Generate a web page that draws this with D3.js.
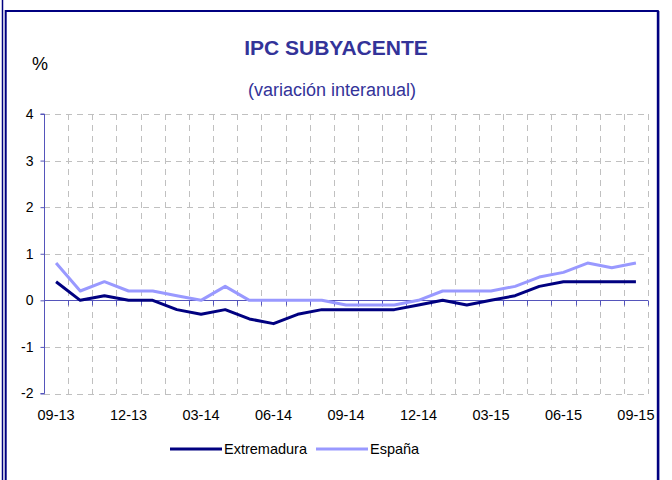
<!DOCTYPE html>
<html>
<head>
<meta charset="utf-8">
<script src="https://cdn.jsdelivr.net/npm/d3@7/dist/d3.min.js"></script>
<style>
  html, body { margin: 0; padding: 0; background: #fff; }
  svg { display: block; font-family: "Liberation Sans", Arial, sans-serif; }
</style>
</head>
<body>
<svg id="chart" width="672" height="480"></svg>
<script>
// Monthly categories, Sep 2013 to Sep 2015
const months = ["09-13","10-13","11-13","12-13","01-14","02-14","03-14","04-14","05-14",
  "06-14","07-14","08-14","09-14","10-14","11-14","12-14","01-15","02-15","03-15",
  "04-15","05-15","06-15","07-15","08-15","09-15"];

// Core CPI, year-on-year change (%)
const extremadura = [0.4, 0.0, 0.1, 0.0, 0.0, -0.2, -0.3, -0.2, -0.4, -0.5, -0.3, -0.2, -0.2,
  -0.2, -0.2, -0.1, 0.0, -0.1, 0.0, 0.1, 0.3, 0.4, 0.4, 0.4, 0.4];
const espana = [0.8, 0.2, 0.4, 0.2, 0.2, 0.1, 0.0, 0.3, 0.0, 0.0, 0.0, 0.0, -0.1,
  -0.1, -0.1, 0.0, 0.2, 0.2, 0.2, 0.3, 0.5, 0.6, 0.8, 0.7, 0.8];

const yTicks = [-2, -1, 0, 1, 2, 3, 4];
const xTickLabels = ["09-13","12-13","03-14","06-14","09-14","12-14","03-15","06-15","09-15"];

const seriesNames = ["Extremadura", "España"];
const seriesColors = ["#000080", "#9999ff"];

const svg = d3.select("#chart");

// Frame
svg.append("line").attr("x1", 2.5).attr("x2", 2.5).attr("y1", 0).attr("y2", 480)
  .attr("stroke", "#000080").attr("stroke-width", 1.5);
svg.append("path")
  .attr("d", "M5.7,480 L5.7,11 L657.8,11 L657.8,480")
  .attr("fill", "none").attr("stroke", "#000080").attr("stroke-width", 2);
svg.append("line").attr("x1", 658.6).attr("x2", 658.6).attr("y1", 11).attr("y2", 480)
  .attr("stroke", "#000080").attr("stroke-width", 1.6);

// Scales
const x = d3.scaleBand().domain(months).range([44, 648]).padding(0);
const xc = d => x(d) + x.bandwidth() / 2;
const y = d3.scaleLinear().domain([-2, 4]).range([393.5, 114]);

// Gridlines
const grid = svg.append("g").attr("stroke", "#c0c0c0").attr("stroke-width", 1)
  .attr("stroke-dasharray", "6,5").attr("shape-rendering", "crispEdges");
grid.selectAll("line.h").data(yTicks.filter(v => v !== 0)).join("line")
  .attr("class", "h").attr("x1", 44).attr("x2", 648)
  .attr("y1", d => Math.round(y(d)) + 0.5).attr("y2", d => Math.round(y(d)) + 0.5);
grid.selectAll("line.v").data(months.map(m => x(m) + x.bandwidth())).join("line")
  .attr("class", "v").attr("x1", d => Math.round(d) + 0.5).attr("x2", d => Math.round(d) + 0.5)
  .attr("y1", y(4)).attr("y2", y(-2));

// Y axis
const yAxis = svg.append("g").attr("transform", "translate(44.5,0)")
  .call(d3.axisLeft(y).tickValues(yTicks).tickSize(4).tickPadding(7).tickFormat(d => String(d)));
yAxis.select(".domain").attr("stroke", "#5555bb").attr("d", `M-4,${y(4)}H0V${y(-2)}H-4`);
yAxis.selectAll(".tick line").attr("stroke", "#5555bb");
yAxis.selectAll(".tick text").attr("font-size", 14).attr("fill", "#000")
  .attr("font-family", "Liberation Sans, Arial, sans-serif");

// X axis at zero
const y0 = Math.round(y(0)) + 0.5;
svg.append("line").attr("x1", 44).attr("x2", 648).attr("y1", y0).attr("y2", y0)
  .attr("stroke", "#5555bb").attr("stroke-width", 1);
svg.append("g").selectAll("line").data(months.map(m => x(m) + x.bandwidth())).join("line")
  .attr("x1", d => Math.round(d) + 0.5).attr("x2", d => Math.round(d) + 0.5)
  .attr("y1", y0).attr("y2", y0 + 5).attr("stroke", "#5555bb");

// X tick labels along the bottom
svg.append("g").selectAll("text").data(xTickLabels).join("text")
  .attr("x", d => xc(d)).attr("y", 420).attr("text-anchor", "middle")
  .attr("font-size", 14.5).attr("fill", "#000").text(d => d);

// Lines
const line = d3.line().x((d, i) => xc(months[i])).y(d => y(d));
[extremadura, espana].forEach((vals, k) => {
  svg.append("path").datum(vals).attr("d", line)
    .attr("fill", "none").attr("stroke", seriesColors[k]).attr("stroke-width", 3)
    .attr("stroke-linejoin", "round");
});

// Titles
svg.append("text").attr("x", 336).attr("y", 55).attr("text-anchor", "middle")
  .attr("font-size", 21).attr("font-weight", "bold").attr("fill", "#333399")
  .text("IPC SUBYACENTE");
svg.append("text").attr("x", 332).attr("y", 96).attr("text-anchor", "middle")
  .attr("font-size", 18).attr("fill", "#333399").text("(variación interanual)");
svg.append("text").attr("x", 40).attr("y", 70).attr("text-anchor", "middle")
  .attr("font-size", 18).attr("fill", "#000").text("%");

// Legend
const legendX = [170, 316];
const legend = svg.append("g");
seriesNames.forEach((name, k) => {
  legend.append("line").attr("x1", legendX[k]).attr("x2", legendX[k] + 52)
    .attr("y1", 449).attr("y2", 449).attr("stroke", seriesColors[k]).attr("stroke-width", 3);
  legend.append("text").attr("x", legendX[k] + 54).attr("y", 454)
    .attr("font-size", 14.5).attr("fill", "#000").text(name);
});
</script>
</body>
</html>
